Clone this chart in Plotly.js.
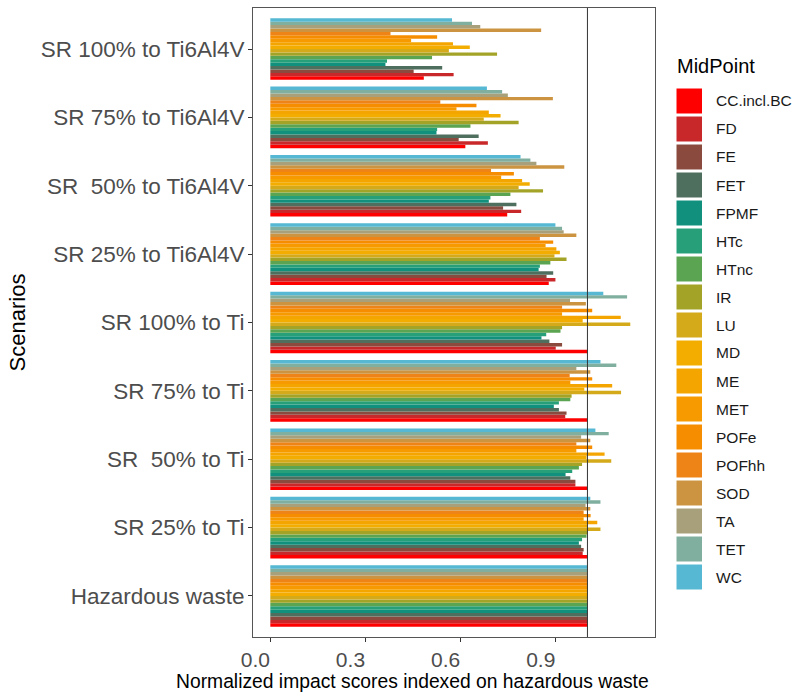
<!DOCTYPE html>
<html><head><meta charset="utf-8">
<script src="https://cdn.plot.ly/plotly-3.0.1.min.js"></script>
<style>html,body{margin:0;padding:0;background:#fff}</style>
</head><body><div id="chart" style="width:804px;height:694px"></div>
<script>
// Scenario categories (bottom to top)
const scenarios = ['Hazardous waste','SR 25% to Ti','SR \u00a050% to Ti','SR 75% to Ti','SR 100% to Ti',
  'SR 25% to Ti6Al4V','SR \u00a050% to Ti6Al4V','SR 75% to Ti6Al4V','SR 100% to Ti6Al4V'];
// Midpoint categories
const midpoints = ['CC.incl.BC','FD','FE','FET','FPMF','HTc','HTnc','IR','LU','MD','ME','MET','POFe','POFhh','SOD','TA','TET','WC'];
const midpointColors = ['#FF0000','#C8282A','#8B4A3E','#4E6E5E','#12907E','#27A07A','#5BA552','#A3A328','#D4A91A',
  '#F2AD00','#F5A500','#F79A00','#F68C00','#EE8418','#CC9440','#A7A07A','#80AFA0','#56B8D3'];
// Values per scenario, in midpoint order (CC.incl.BC ... WC)
const hazardousWaste = [1,1,1,1,1,1,1,1,1,1,1,1,1,1,1,1,1,1];
const sr25Ti   = [1.0,0.985,0.988,0.98,0.973,0.983,0.997,1.0,1.041,0.999,1.031,0.988,1.01,0.988,1.009,0.994,1.041,1.009];
const sr50Ti   = [1.0,0.962,0.962,0.946,0.931,0.952,0.973,0.983,1.075,0.997,1.054,0.965,1.015,0.965,1.009,0.98,1.067,1.025];
const sr75Ti   = [1.0,0.93,0.934,0.91,0.894,0.91,0.946,0.95,1.106,0.99,1.078,0.946,1.015,0.944,1.009,0.965,1.091,1.041];
const sr100Ti  = [1.0,0.90,0.92,0.88,0.855,0.87,0.915,0.92,1.135,0.985,1.105,0.92,1.015,0.92,0.995,0.945,1.125,1.05];
const sr25TiAl = [0.878,0.899,0.871,0.892,0.846,0.850,0.883,0.934,0.896,0.913,0.902,0.868,0.892,0.850,0.965,0.925,0.920,0.899];
const sr50TiAl = [0.747,0.791,0.734,0.776,0.689,0.694,0.757,0.860,0.783,0.818,0.794,0.728,0.768,0.696,0.927,0.839,0.820,0.789];
const sr75TiAl = [0.615,0.686,0.594,0.657,0.524,0.526,0.631,0.783,0.673,0.726,0.689,0.587,0.650,0.536,0.891,0.749,0.731,0.683];
const sr100TiAl= [0.484,0.578,0.452,0.542,0.363,0.368,0.510,0.715,0.563,0.629,0.576,0.444,0.526,0.379,0.854,0.662,0.636,0.573];
const scenarioValues = [hazardousWaste,sr25Ti,sr50Ti,sr75Ti,sr100Ti,sr25TiAl,sr50TiAl,sr75TiAl,sr100TiAl];
const xTicks = [0,0.3,0.6,0.9];
const xTickText = ['0.0','0.3','0.6','0.9'];

const FONT = 'Liberation Sans, Arial, sans-serif';
const traces = midpoints.map((m,i)=>({
  type:'bar', orientation:'h', name:m,
  y: scenarios,
  x: scenarioValues.map(v=>v[i]),
  marker:{color:midpointColors[i], line:{width:0}},
  showlegend:false, hoverinfo:'x+name'
}));

// plot area in pixels
const L=253, R=655, T=8, B=637;
const px = p => (p-L)/(R-L);
const py = p => (B-p)/(B-T);

const shapes = [{type:'line', xref:'x', yref:'paper', x0:1, x1:1, y0:0, y1:1,
  line:{color:'#333333', width:1}, layer:'above'}];
const annotations = [
  {xref:'paper', yref:'paper', x:px(675), y:py(66), xanchor:'left', yanchor:'middle',
   text:'MidPoint', showarrow:false, font:{family:FONT, size:20, color:'#000'}},
  {xref:'paper', yref:'paper', x:px(412), y:py(681), xanchor:'center', yanchor:'middle',
   text:'Normalized impact scores indexed on hazardous waste', showarrow:false,
   font:{family:FONT, size:19.3, color:'#000'}}
];
midpoints.forEach((m,i)=>{
  const top = 88.5 + 28*i;
  shapes.push({type:'rect', xref:'paper', yref:'paper', x0:px(676.5), x1:px(702), y0:py(top+25), y1:py(top),
    fillcolor:midpointColors[i], line:{width:0}});
  annotations.push({xref:'paper', yref:'paper', x:px(714), y:py(top+12.5), xanchor:'left', yanchor:'middle',
    text:m, showarrow:false, font:{family:FONT, size:15.5, color:'#1a1a1a'}});
});

const layout = {
  width:804, height:694,
  margin:{l:L, r:804-R, t:T, b:694-B, pad:0},
  paper_bgcolor:'#fff', plot_bgcolor:'#fff',
  barmode:'group', bargap:0.1, bargroupgap:0,
  font:{family:FONT},
  xaxis:{range:[-0.0546,1.213], tickvals:xTicks, ticktext:xTickText, showgrid:false, zeroline:false,
    showline:true, mirror:true, linecolor:'#555', linewidth:1, ticklabelshift:-15,
    ticks:'outside', ticklen:4, tickcolor:'#333', tickfont:{size:21, color:'#4D4D4D', family:FONT},
    automargin:false},
  yaxis:{type:'category', categoryorder:'array', categoryarray:scenarios, range:[-0.6,8.6],
    showgrid:false, zeroline:false, showline:true, mirror:true, linecolor:'#555', linewidth:1,
    ticks:'outside', ticklen:4, tickcolor:'#333', ticklabelstandoff:-1,
    tickfont:{size:22.5, color:'#4D4D4D', family:FONT},
    title:{text:'Scenarios', font:{size:22, color:'#000', family:FONT}, standoff:8},
    automargin:false},
  shapes:shapes, annotations:annotations
};
Plotly.newPlot('chart', traces, layout, {displayModeBar:false, staticPlot:true});
</script></body></html>
